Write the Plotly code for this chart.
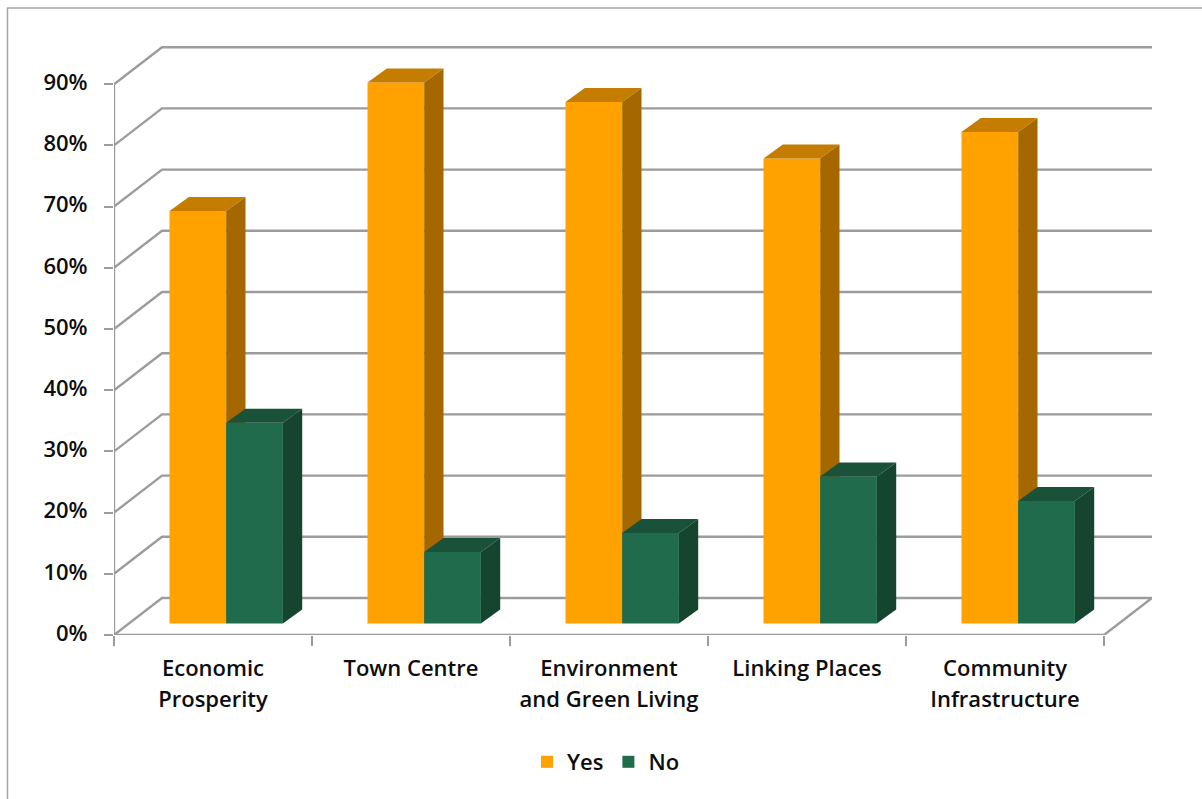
import plotly.graph_objects as go

categories = ["Economic<br>Prosperity", "Town Centre", "Environment<br>and Green Living",
              "Linking Places", "Community<br>Infrastructure"]
yes_values = [67.4, 88.4, 85.2, 76.0, 80.3]
no_values = [32.8, 11.7, 14.8, 24.0, 20.0]
grid_values = [10, 20, 30, 40, 50, 60, 70, 80, 90]
tick_values = [0] + grid_values
tick_labels = ["0%", "10%", "20%", "30%", "40%", "50%", "60%", "70%", "80%", "90%"]

W, H = 1202, 799
# plot geometry (pixels of the picture)
LEFT, RIGHT, BOTTOM, TOP = 114, 1152, 635, 46
PX_PER_CAT, PX_PER_PCT = 198, 6.12
n = len(categories)

wall_dx = 48 / PX_PER_CAT
wall_dy = 37 / PX_PER_PCT
bar_dx = 19.3 / PX_PER_CAT
bar_dy = 14 / PX_PER_PCT
bar_base = 11.5 / PX_PER_PCT
bar_w = 56.7 / PX_PER_CAT
bar_start = 55.5 / PX_PER_CAT

x_range = [0, (RIGHT - LEFT) / PX_PER_CAT]
y_range = [0, (BOTTOM - TOP) / PX_PER_PCT]

GRID = "#9c9c9c"
YES = "#FFA200"; YES_TOP = "#C47D00"; YES_SIDE = "#A56800"
NO = "#1F6B4B"; NO_TOP = "#1A5239"; NO_SIDE = "#16452F"
TEXT = "#0d0d0d"
FAMILY = "'Open Sans', sans-serif"
WEIGHT = 600

fig = go.Figure()

# walls, floor and gridlines
gx, gy = [], []
for v in tick_values:
    if v == 0:
        gx += [n, n + wall_dx, wall_dx, 0, None]
        gy += [0, wall_dy, wall_dy, 0, None]
    else:
        gx += [0, wall_dx, n + wall_dx, None]
        gy += [v, v + wall_dy, v + wall_dy, None]
gx += [0, 0, None, 0, n]
gy += [0, tick_values[-1], None, 0, 0]
fig.add_trace(go.Scatter(x=gx, y=gy, mode="lines", line=dict(color=GRID, width=2.4),
                         hoverinfo="skip", showlegend=False, cliponaxis=False))


def add_series(name, values, shift, front, top, side, xa, ya):
    xs = [i + bar_start + shift * bar_w + bar_w / 2 for i in range(n)]
    fig.add_trace(go.Bar(name=name, x=xs, y=values, base=[bar_base] * n, width=bar_w,
                         marker=dict(color=front, line=dict(width=0)),
                         xaxis=xa, yaxis=ya, customdata=categories,
                         hovertemplate="%{customdata}: %{y}%<extra>" + name + "</extra>"))
    tx, ty, sx, sy = [], [], [], []
    for c, v in zip(xs, values):
        l, r, b, t = c - bar_w / 2, c + bar_w / 2, bar_base, bar_base + v
        tx += [l, r, r + bar_dx, l + bar_dx, l, None]
        ty += [t, t, t + bar_dy, t + bar_dy, t, None]
        sx += [r, r + bar_dx, r + bar_dx, r, r, None]
        sy += [b, b + bar_dy, t + bar_dy, t, b, None]
    for px, py, col in ((tx, ty, top), (sx, sy, side)):
        fig.add_trace(go.Scatter(x=px, y=py, mode="lines", fill="toself", fillcolor=col,
                                 line=dict(width=0, color=col), hoverinfo="skip",
                                 showlegend=False, xaxis=xa, yaxis=ya))


add_series("Yes", yes_values, 0, YES, YES_TOP, YES_SIDE, "x2", "y2")
add_series("No", no_values, 1, NO, NO_TOP, NO_SIDE, "x3", "y3")

x_dom = [LEFT / W, RIGHT / W]
y_dom = [1 - BOTTOM / H, 1 - TOP / H]
hidden = dict(visible=False, fixedrange=True)

ticktext = ["<br>".join(f'<span style="font-size:22px">{p}</span>' for p in c.split("<br>"))
            for c in categories]

fig.update_layout(
    width=W, height=H, autosize=False,
    margin=dict(l=0, r=0, t=0, b=0, autoexpand=False),
    paper_bgcolor="white", plot_bgcolor="white",
    barmode="overlay", font=dict(family=FAMILY, size=21, color=TEXT),
    xaxis=dict(domain=x_dom, range=x_range, showgrid=False, zeroline=False, showline=False,
               tickmode="array", tickvals=[i + 0.5 for i in range(n)], ticktext=ticktext,
               tickfont=dict(family=FAMILY, size=24, color=TEXT, weight=WEIGHT),
               ticks="outside", ticklen=0, tickangle=0, ticklabelstandoff=11,
               minor=dict(tickmode="array", tickvals=list(range(n + 1)), ticks="outside",
                          ticklen=10, tickwidth=2, tickcolor=GRID, showgrid=False),
               fixedrange=True),
    yaxis=dict(domain=y_dom, range=y_range, showgrid=False, zeroline=False, showline=False,
               tickmode="array", tickvals=tick_values, ticktext=tick_labels,
               ticks="outside", ticklen=9, tickwidth=2, tickcolor=GRID,
               tickfont=dict(family=FAMILY, size=22, color=TEXT, weight=WEIGHT),
               ticklabelstandoff=12, ticklabelshift=-2, fixedrange=True),
    xaxis2=dict(overlaying="x", range=x_range, **hidden),
    yaxis2=dict(overlaying="y", range=y_range, **hidden),
    xaxis3=dict(overlaying="x", range=x_range, **hidden),
    yaxis3=dict(overlaying="y", range=y_range, **hidden),
    legend=dict(orientation="h", x=606 / W, xanchor="center", y=1 - 762 / H, yanchor="middle",
                font=dict(family=FAMILY, size=22, color=TEXT, weight=WEIGHT),
                bgcolor="rgba(0,0,0,0)", traceorder="normal"),
    shapes=[dict(type="path", xref="paper", yref="paper", layer="below",
                 path=f"M {7.5 / W} 0 L {7.5 / W} {1 - 8 / H} L 1 {1 - 8 / H}",
                 line=dict(color="#a6a6a6", width=1.5))],
)

fig.write_html("out.html", config={"displayModeBar": False},
               post_script="document.body.style.margin='0';document.body.style.overflow='hidden';")
